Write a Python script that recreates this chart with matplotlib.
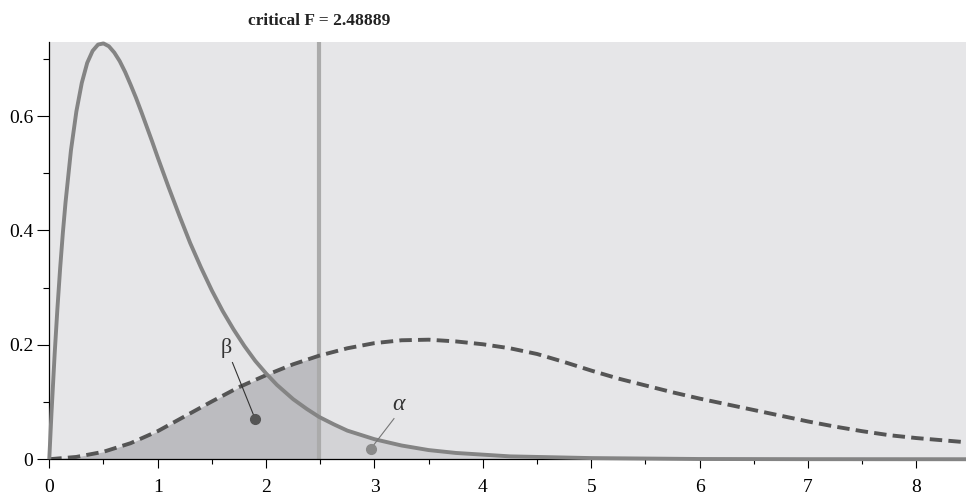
import matplotlib
matplotlib.use("Agg")
import matplotlib.pyplot as plt
from matplotlib.ticker import MultipleLocator, FuncFormatter

# ---- data
crit_f = 2.48889

# central F curve (solid)
x_null = [0.0, 0.02, 0.05, 0.075, 0.1, 0.125, 0.15, 0.2, 0.25, 0.3, 0.35, 0.4,
          0.45, 0.5, 0.55, 0.6, 0.65, 0.7, 0.75, 0.8, 0.85, 0.9, 0.95, 1.0,
          1.1, 1.2, 1.3, 1.4, 1.5, 1.6, 1.7, 1.8, 1.9, 2.0, 2.1, 2.25, 2.375,
          crit_f, 2.625, 2.75, 3.0, 3.25, 3.5, 3.75, 4.0, 4.25, 4.5, 5.0, 6.0,
          7.0, 8.5]
y_null = [0.0, 0.079, 0.185, 0.263, 0.333, 0.395, 0.449, 0.540, 0.608, 0.658,
          0.693, 0.714, 0.725, 0.727, 0.722, 0.711, 0.696, 0.677, 0.655, 0.632,
          0.607, 0.581, 0.555, 0.528, 0.476, 0.426, 0.378, 0.335, 0.295, 0.259,
          0.227, 0.198, 0.172, 0.150, 0.130, 0.105, 0.088, 0.074, 0.061, 0.050,
          0.035, 0.024, 0.016, 0.011, 0.008, 0.005, 0.004, 0.002, 0.0004,
          0.0001, 0.0]

# non-central F curve (dashed)
x_alt = [0.0, 0.25, 0.5, 0.75, 1.0, 1.25, 1.5, 1.75, 2.0, 2.25, crit_f, 2.75,
         3.0, 3.25, 3.5, 3.75, 4.0, 4.25, 4.5, 4.75, 5.0, 5.25, 5.5, 5.75, 6.0,
         6.25, 6.5, 6.75, 7.0, 7.25, 7.5, 7.75, 8.0, 8.25, 8.5]
y_alt = [0.0, 0.004, 0.013, 0.028, 0.049, 0.075, 0.101, 0.126, 0.147, 0.166,
         0.181, 0.194, 0.203, 0.208, 0.209, 0.206, 0.201, 0.194, 0.184, 0.170,
         0.155, 0.141, 0.129, 0.117, 0.106, 0.096, 0.086, 0.076, 0.066, 0.057,
         0.049, 0.042, 0.037, 0.033, 0.029]

beta_label = (1.63, 0.194)
beta_dot = (1.90, 0.070)
alpha_label = (3.22, 0.095)
alpha_dot = (2.965, 0.018)

plt.rcParams['font.family'] = ['Liberation Serif', 'DejaVu Serif']

fig = plt.figure(figsize=(9.66, 4.97), dpi=100)
ax = fig.add_axes([0.051, 0.076, 0.949, 0.8395])
ax.set_facecolor('#e6e6e8')

# shaded areas
xb = [x for x in x_alt if x <= crit_f]
ax.fill_between(xb, y_alt[:len(xb)], 0, color='#bcbcc0', lw=0, zorder=1)
i0 = x_null.index(crit_f)
ax.fill_between(x_null[i0:], y_null[i0:], 0, color='#d3d3d6', lw=0, zorder=1)

ax.axvline(crit_f, color='#ababab', lw=3, zorder=2)
ax.plot(x_alt, y_alt, color='#555555', lw=2.8, dashes=(3.2, 1.6), zorder=3)
ax.plot(x_null, y_null, color='#848484', lw=2.8, zorder=4,
        solid_capstyle='butt', solid_joinstyle='round', clip_on=False)

# annotations
ax.text(*beta_label, 'β', fontsize=16, ha='center', va='center', color='#333333')
ax.plot([beta_label[0] + 0.06, beta_dot[0]], [beta_label[1] - 0.025, beta_dot[1]],
        color='#333333', lw=0.8, zorder=5)
ax.plot(*beta_dot, 'o', color='#555555', ms=7, zorder=5)
ax.text(*alpha_label, 'α', fontsize=17, ha='center', va='center', color='#333333',
        style='italic')
ax.plot([alpha_label[0] - 0.04, alpha_dot[0]], [alpha_label[1] - 0.024, alpha_dot[1]],
        color='#777777', lw=0.8, zorder=5)
ax.plot(*alpha_dot, 'o', color='#8a8a8a', ms=7, zorder=5)

ax.text(crit_f, 1.05, 'critical F = 2.48889', transform=ax.get_xaxis_transform(),
        ha='center', va='center', fontsize=12.5, fontweight='bold', color='#222222')

ax.set_xlim(0, 8.457)
ax.set_ylim(0, 0.7295)
for s in ('top', 'right'):
    ax.spines[s].set_visible(False)
ax.spines['left'].set_linewidth(0.9)
ax.spines['bottom'].set_linewidth(0.9)

ax.xaxis.set_major_locator(MultipleLocator(1))
ax.xaxis.set_minor_locator(MultipleLocator(0.5))
ax.yaxis.set_major_locator(MultipleLocator(0.2))
ax.yaxis.set_minor_locator(MultipleLocator(0.1))
ax.yaxis.set_major_formatter(FuncFormatter(lambda v, p: '0' if v == 0 else f'{v:.1f}'))
ax.tick_params(axis='x', which='major', length=6.5, width=0.8, pad=8, labelsize=14)
ax.tick_params(axis='x', which='minor', length=3.5, width=0.8)
ax.tick_params(axis='y', which='major', length=8.5, width=0.8, pad=3, labelsize=14)
ax.tick_params(axis='y', which='minor', length=4.3, width=0.8)

fig.savefig('out.png', dpi=100)
